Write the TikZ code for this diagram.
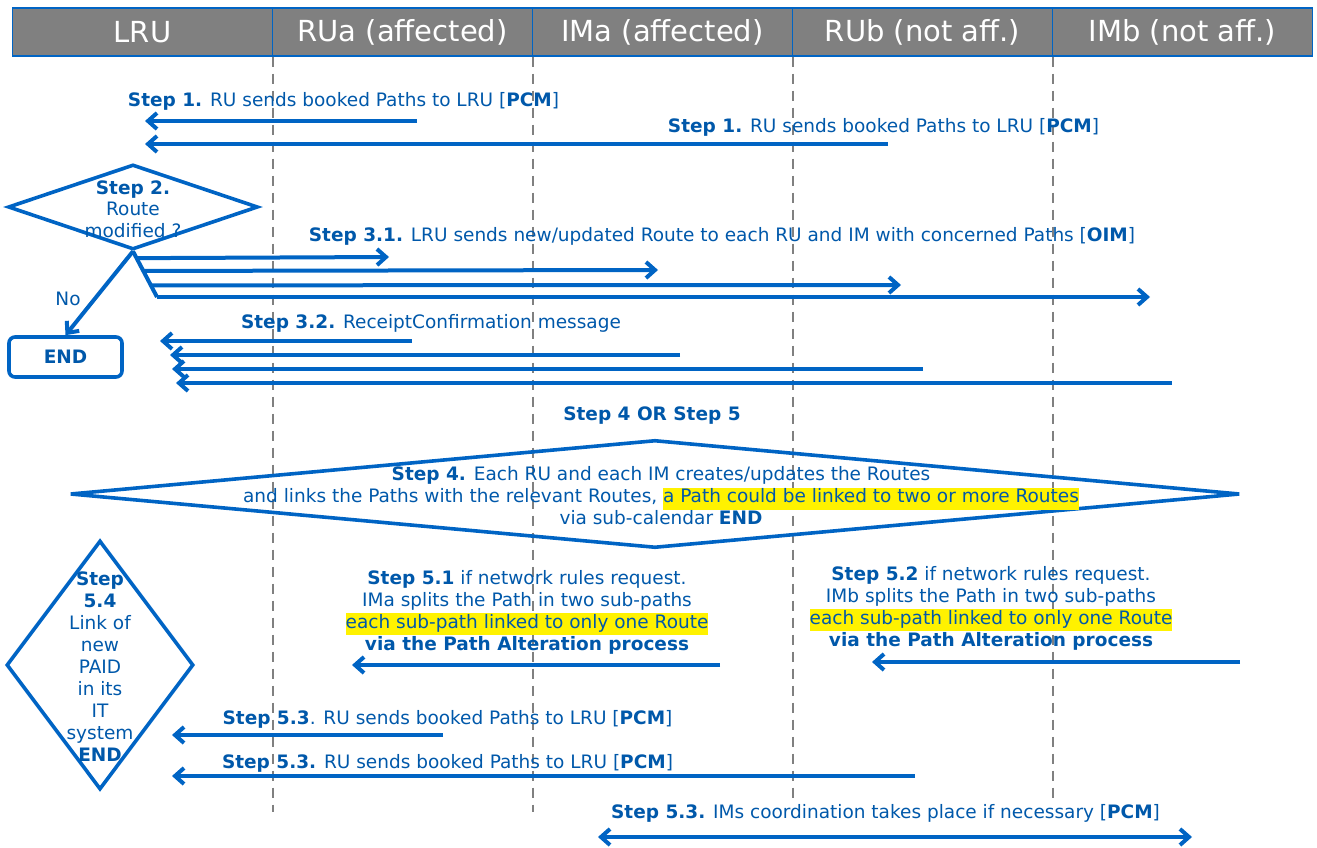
\documentclass[tikz,border=0pt]{standalone}
\usepackage{fontspec}
\setmainfont{DejaVu Sans}
\usetikzlibrary{shapes.geometric, arrows.meta, calc}
\definecolor{txtblue}{RGB}{0,88,170}
\definecolor{lineblue}{RGB}{0,100,196}
\definecolor{headgray}{RGB}{128,128,128}
\tikzstyle{head} = [rectangle, minimum width=260pt, minimum height=48pt, inner sep=0pt, text centered, fill=headgray, draw=lineblue, line width=1.2pt, text=white, font=\fontsize{29}{32}\selectfont]
\tikzstyle{lifeline} = [draw=headgray, line width=2.6pt, dash pattern=on 10pt off 7pt]
\tikzstyle{msg} = [text=txtblue, inner sep=0pt, font=\fontsize{18.5}{22}\selectfont]
\tikzstyle{block} = [msg, align=center]
\tikzstyle{decision} = [diamond, draw=lineblue, line width=3.6pt, inner sep=0pt]
\tikzstyle{branch} = [draw=lineblue, line width=4pt]
\tikzstyle{arrow} = [branch, -{Straight Barb[length=9pt,width=16pt]}]
\tikzstyle{biarrow} = [branch, {Straight Barb[length=9pt,width=16pt]}-{Straight Barb[length=9pt,width=16pt]}]
\newcommand{\hilite}[1]{{\setlength{\fboxsep}{0pt}\colorbox{yellow}{\strut #1}}}

\begin{document}
\begin{tikzpicture}[x=1pt, y=-1pt, node distance=260pt]
\useasboundingbox (0,0) rectangle (1317,848);

% actors
\node(lru) [head] at (142.5,32) {LRU};
\node(rua) [head, right of=lru] {RUa (affected)};
\node(ima) [head, right of=rua] {IMa (affected)};
\node(rub) [head, right of=ima] {RUb (not aff.)};
\node(imb) [head, right of=rub] {IMb (not aff.)};
\foreach \c/\e in {lru/812, rua/812, ima/798, rub/798}
  \draw[lifeline] (\c.south east) -- (\c.south east |- 0,\e);

% step 1
\node(s1a) [msg] at (343.5,101) {\textbf{Step 1.} RU sends booked Paths to LRU [\textbf{PCM}]};
\node(s1b) [msg] at (883.5,127) {\textbf{Step 1.} RU sends booked Paths to LRU [\textbf{PCM}]};
\coordinate(s1a-from) at (417,121); \coordinate(s1a-to) at (145,121);
\coordinate(s1b-from) at (888,144); \coordinate(s1b-to) at (145,144);
\draw[arrow] (s1a-from) -- (s1a-to);
\draw[arrow] (s1b-from) -- (s1b-to);

% step 2
\node(d2) [decision, minimum width=250pt, minimum height=85pt] at (133,207) {};
\node(d2txt) [block, font=\fontsize{18.5}{21.5}\selectfont] at (133,209) {\textbf{Step 2.}\\Route\\modified ?};
\node(endbox) [rectangle, rounded corners=6pt, draw=lineblue, line width=3.6pt, minimum width=113pt, minimum height=40pt, text=txtblue, font=\fontsize{18.5}{22}\selectfont\bfseries] at (65.5,357) {END};
\draw[arrow] (d2.south) -- (endbox.north);
\node(no) [msg] at (68,299) {No};

% step 3.1
\node(s31) [msg] at (722,236) {\textbf{Step 3.1.} LRU sends new/updated Route to each RU and IM with concerned Paths [\textbf{OIM}]};
\coordinate(fan) at (157,297);
\draw[branch] (d2.south) -- (fan);
\coordinate(r31a) at (389,257);
\coordinate(r31b) at (658,270);
\coordinate(r31c) at (901,285);
\coordinate(r31d) at (1150,297);
\draw[arrow] ($(d2.south)!0.15!(fan)$) -- (r31a);
\draw[arrow] ($(d2.south)!0.43!(fan)$) -- (r31b);
\draw[arrow] ($(d2.south)!0.745!(fan)$) -- (r31c);
\draw[arrow] (fan) -- (r31d);

% step 3.2
\node(s32) [msg] at (431,323) {\textbf{Step 3.2.} ReceiptConfirmation message};
\coordinate(r32a) at (412,341); \coordinate(l32a) at (160,341);
\coordinate(r32b) at (680,355); \coordinate(l32b) at (170,355);
\coordinate(r32c) at (923,369); \coordinate(l32c) at (172,369);
\coordinate(r32d) at (1172,383); \coordinate(l32d) at (176,383);
\foreach \i in {a,b,c,d}
  \draw[arrow] (r32\i) -- (l32\i);

% step 4 or step 5
\node(or45) [msg, font=\fontsize{18.5}{22}\selectfont\bfseries] at (652,416) {Step 4 OR Step 5};
\node(d4) [decision, minimum width=1170pt, minimum height=108pt] at (655,494) {};
\node(d4txt) [block] at (661,496) {\textbf{Step 4.} Each RU and each IM creates/updates the Routes\\and links the Paths with the relevant Routes, \hilite{a Path could be linked to two or more Routes}\\via sub-calendar \textbf{END}};

% step 5.4
\node(d54) [decision, minimum width=187pt, minimum height=249pt] at (100,665) {};
\node(d54txt) [block] at (100,667) {\textbf{Step}\\\textbf{5.4}\\Link of\\new\\PAID\\in its\\IT\\system\\\textbf{END}};

% step 5.1 and 5.2
\node(s51) [block] at (527,612.5) {\textbf{Step 5.1} if network rules request.\\IMa splits the Path in two sub-paths\\\hilite{each sub-path linked to only one Route}\\\textbf{via the Path Alteration process}};
\node(s52) [block] at (991,608.5) {\textbf{Step 5.2} if network rules request.\\IMb splits the Path in two sub-paths\\\hilite{each sub-path linked to only one Route}\\\textbf{via the Path Alteration process}};
\coordinate(s51-from) at (720,665); \coordinate(s51-to) at (352,665);
\coordinate(s52-from) at (1240,662); \coordinate(s52-to) at (872,662);
\draw[arrow] (s51-from) -- (s51-to);
\draw[arrow] (s52-from) -- (s52-to);

% step 5.3
\node(s53a) [msg] at (447.5,719) {\textbf{Step 5.3}. RU sends booked Paths to LRU [\textbf{PCM}]};
\node(s53b) [msg] at (447.5,763) {\textbf{Step 5.3.} RU sends booked Paths to LRU [\textbf{PCM}]};
\node(s53c) [msg] at (885.5,813) {\textbf{Step 5.3.} IMs coordination takes place if necessary [\textbf{PCM}]};
\coordinate(s53a-from) at (443,735); \coordinate(s53a-to) at (172,735);
\coordinate(s53b-from) at (915,776); \coordinate(s53b-to) at (172,776);
\coordinate(s53c-left) at (598,837); \coordinate(s53c-right) at (1192,837);
\draw[arrow] (s53a-from) -- (s53a-to);
\draw[arrow] (s53b-from) -- (s53b-to);
\draw[biarrow] (s53c-left) -- (s53c-right);
\end{tikzpicture}
\end{document}
